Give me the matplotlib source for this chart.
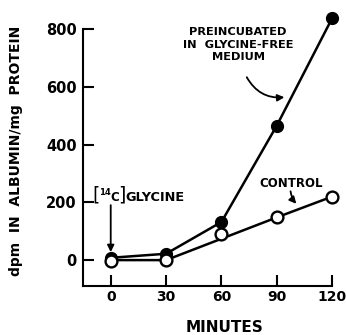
import matplotlib.pyplot as plt

# datos
minutos = [0, 30, 60, 90, 120]
preincubado = [8, 22, 132, 466, 838]
control = [-2, 0, 92, 148, 220]
# recta de ajuste del control
ajuste_x = [0, 30, 90, 120]
ajuste_y = [0, 0, 148, 220]

xticks = [0, 30, 60, 90, 120]
yticks = [0, 200, 400, 600, 800]

plt.rcParams['font.family'] = 'DejaVu Sans'
plt.rcParams['font.weight'] = 'bold'

fig = plt.figure(figsize=(3.46, 3.35), dpi=100)
ax = fig.add_axes([0.240, 0.146, 0.720, 0.767])

ax.set_xlim(-15, 120)
ax.set_ylim(-90, 800)

ax.plot(minutos, preincubado, 'k-', lw=1.8, clip_on=False, zorder=2)
ax.plot(ajuste_x, ajuste_y, 'k-', lw=1.8, clip_on=False, zorder=2)
ax.plot(minutos, preincubado, 'o', ms=8.5, mfc='k', mec='k', clip_on=False, zorder=3)
ax.plot(minutos, control, 'o', ms=8.5, mfc='white', mec='k', mew=1.7, clip_on=False, zorder=4)

for s in ['top', 'right']:
    ax.spines[s].set_visible(False)
for s in ['left', 'bottom']:
    ax.spines[s].set_linewidth(1.5)

ax.set_xticks(xticks)
ax.set_yticks(yticks)
ax.tick_params(direction='in', length=8, width=1.5, labelsize=10)
ax.tick_params(axis='x', pad=3)
ax.tick_params(axis='y', pad=4.5, labelsize=10.5)

ax.set_xlabel('MINUTES', fontsize=11, fontweight='bold', va='top')
ax.xaxis.set_label_coords(0.566, -0.132)
ax.set_ylabel('dpm  IN  ALBUMIN/mg  PROTEIN', fontsize=10, fontweight='bold')
ax.yaxis.set_label_coords(-0.241, 0.525)

ax.text(69, 746, 'PREINCUBATED\nIN  GLYCINE-FREE\nMEDIUM', ha='center', va='center',
        fontsize=8.2, fontweight='bold', linespacing=1.3)
ax.annotate('', xy=(95.6, 565), xytext=(73, 642),
            arrowprops=dict(arrowstyle='-|>', color='k', lw=1.3,
                            connectionstyle='arc3,rad=0.35', mutation_scale=10))

ax.text(97.8, 267, 'CONTROL', ha='center', va='center', fontsize=8.5, fontweight='bold')
ax.annotate('', xy=(101.6, 188), xytext=(97.3, 248),
            arrowprops=dict(arrowstyle='-|>', color='k', lw=1.3,
                            connectionstyle='arc3,rad=0.2', mutation_scale=10))

# etiqueta [14C]GLYCINE armada por piezas
ax.text(-7.95, 226, '[', ha='center', va='center', fontsize=13.5, fontweight='normal')
ax.text(-3.3, 234, '14', ha='center', va='center', fontsize=6, fontweight='bold')
ax.text(2.1, 217, 'C', ha='center', va='center', fontsize=8.5, fontweight='bold')
ax.text(5.9, 224, ']', ha='center', va='center', fontsize=13.5, fontweight='normal')
ax.text(7.8, 218, 'GLYCINE', ha='left', va='center', fontsize=9.3, fontweight='bold')
ax.annotate('', xy=(0, 18), xytext=(0, 200),
            arrowprops=dict(arrowstyle='-|>', color='k', lw=1.3, mutation_scale=10))

fig.savefig('out.png', dpi=100)
